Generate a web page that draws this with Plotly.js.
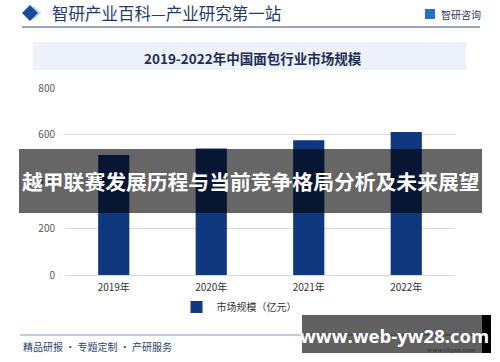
<!DOCTYPE html>
<html>
<head>
<meta charset="utf-8">
<script src="https://cdn.plot.ly/plotly-3.0.1.min.js"></script>
<style>html,body{margin:0;padding:0;background:#fff;}#chart{width:500px;height:362px;}</style>
</head>
<body>
<div id="chart"></div>
<script>
var categories = ["2019年", "2020年", "2021年", "2022年"];
var marketSize = [513, 541, 577, 612];
var seriesName = "市场规模（亿元）";
var yTicks = [0, 200, 400, 600, 800];
var headerText = "智研产业百科—产业研究第一站";
var logoText = "智研咨询";
var chartTitle = "2019-2022年中国面包行业市场规模";
var overlayText = "越甲联赛发展历程与当前竞争格局分析及未来展望";
var footerText = "精品研报 · 专题定制 · 产研服务";
var watermarkText = "www.web-yw28.com";
var siteText = "www.chyxx.com";

// pixel -> paper helpers (plot area x 65..455, y 88..275)
var L = 65, R = 455, T = 88, B = 275;
function px(x){ return (x - L) / (R - L); }
function py(y){ return (B - y) / (B - T); }

var CJK = '"Noto Sans CJK SC", "Noto Sans", sans-serif';

var trace = {
  type: 'bar',
  x: categories,
  y: marketSize,
  name: seriesName,
  marker: {color: '#10387f'},
  width: 0.32,
  showlegend: true
};

var shapes = [
  {type:'path', xref:'paper', yref:'paper', path:'M '+px(27)+' '+py(13)+' L '+px(34)+' '+py(6)+' L '+px(41)+' '+py(13)+' L '+px(34)+' '+py(20)+' Z', fillcolor:'#c9d6ea', line:{width:0}},
  {type:'path', xref:'paper', yref:'paper', path:'M '+px(22)+' '+py(13)+' L '+px(30)+' '+py(5)+' L '+px(38)+' '+py(13)+' L '+px(30)+' '+py(21)+' Z', fillcolor:'#1a4a9c', line:{width:0}},
  {type:'line', xref:'paper', yref:'paper', x0:px(22), x1:px(480), y0:py(27), y1:py(27), line:{color:'#34507e', width:1.2}},
  {type:'rect', xref:'paper', yref:'paper', x0:px(425), x1:px(435), y0:py(9), y1:py(19), fillcolor:'#2a6fc9', line:{width:0}},
  {type:'rect', xref:'paper', yref:'paper', x0:px(33), x1:px(466), y0:py(42), y1:py(70), fillcolor:'#edf2fa', line:{width:0}, layer:'below'},
  {type:'rect', xref:'paper', yref:'paper', x0:px(19), x1:px(482), y0:py(149), y1:py(213), fillcolor:'rgba(0,0,0,0.6)', line:{width:0}, layer:'above'},
  {type:'line', xref:'paper', yref:'paper', x0:px(20), x1:px(482), y0:py(335), y1:py(335), line:{color:'#7f9cc4', width:1}},
  {type:'rect', xref:'paper', yref:'paper', x0:px(302), x1:px(482), y0:py(315), y1:py(353), fillcolor:'rgba(0,0,0,0.62)', line:{width:0}, layer:'above'},
  {type:'rect', xref:'paper', yref:'paper', x0:px(482), x1:px(491), y0:py(315), y1:py(353), fillcolor:'#000', line:{width:0}, layer:'above'}
];

var annotations = [
  {text: headerText, xref:'paper', yref:'paper', x:px(50), y:py(13), xanchor:'left', yanchor:'middle', showarrow:false, font:{family:CJK, size:16.5, color:'#1e3a6e'}},
  {text: logoText, xref:'paper', yref:'paper', x:px(439), y:py(14), xanchor:'left', yanchor:'middle', showarrow:false, font:{family:CJK, size:10, color:'#1e3a6e'}},
  {text: '<b>' + chartTitle + '</b>', xref:'paper', yref:'paper', x:px(253), y:py(58), xanchor:'center', yanchor:'middle', showarrow:false, font:{family:CJK, size:13.5, color:'#1d2d55'}},
  {text: '<b>' + overlayText + '</b>', xref:'paper', yref:'paper', x:px(250.5), y:py(181), xanchor:'center', yanchor:'middle', showarrow:false, font:{family:CJK, size:20.8, color:'#ffffff'}},
  {text: footerText, xref:'paper', yref:'paper', x:px(21), y:py(346), xanchor:'left', yanchor:'middle', showarrow:false, font:{family:CJK, size:10, color:'#2b4370'}},
  {text: siteText, xref:'paper', yref:'paper', x:px(478), y:py(350), xanchor:'right', yanchor:'middle', showarrow:false, font:{family:'"DejaVu Serif", serif', size:6, color:'#333'}},
  {text: '<b>' + watermarkText + '</b>', xref:'paper', yref:'paper', x:px(394), y:py(335.5), xanchor:'center', yanchor:'middle', showarrow:false, font:{family:'"Open Sans", sans-serif', size:18.5, color:'#ffffff'}}
];

var layout = {
  width: 500, height: 362,
  margin: {l: L, r: 500 - R, t: T, b: 362 - B, pad: 0},
  paper_bgcolor: '#ffffff',
  plot_bgcolor: '#ffffff',
  font: {family: CJK, size: 10, color: '#404040'},
  xaxis: {
    type: 'category',
    showgrid: false, zeroline: false,
    showline: false,
    ticks: '',
    ticklabelstandoff: 5,
    tickfont: {family: CJK, size: 10, color: '#333'},
    fixedrange: true
  },
  yaxis: {
    range: [0, 800],
    tickvals: yTicks,
    ticktext: yTicks.map(String),
    showgrid: true, gridcolor: '#d9d9d9', gridwidth: 1,
    zeroline: true, zerolinecolor: '#d9d9d9', zerolinewidth: 1,
    showline: false, ticks: '',
    ticklabelstandoff: 9,
    tickfont: {family: CJK, size: 10, color: '#595959'},
    fixedrange: true
  },
  showlegend: true,
  legend: {
    orientation: 'h',
    x: px(239), xanchor: 'center',
    y: py(307), yanchor: 'middle',
    font: {family: CJK, size: 10, color: '#333'},
    itemwidth: 30,
    bgcolor: 'rgba(0,0,0,0)'
  },
  shapes: shapes,
  annotations: annotations
};

Plotly.newPlot('chart', [trace], layout, {displayModeBar: false, staticPlot: true});
</script>
</body>
</html>
